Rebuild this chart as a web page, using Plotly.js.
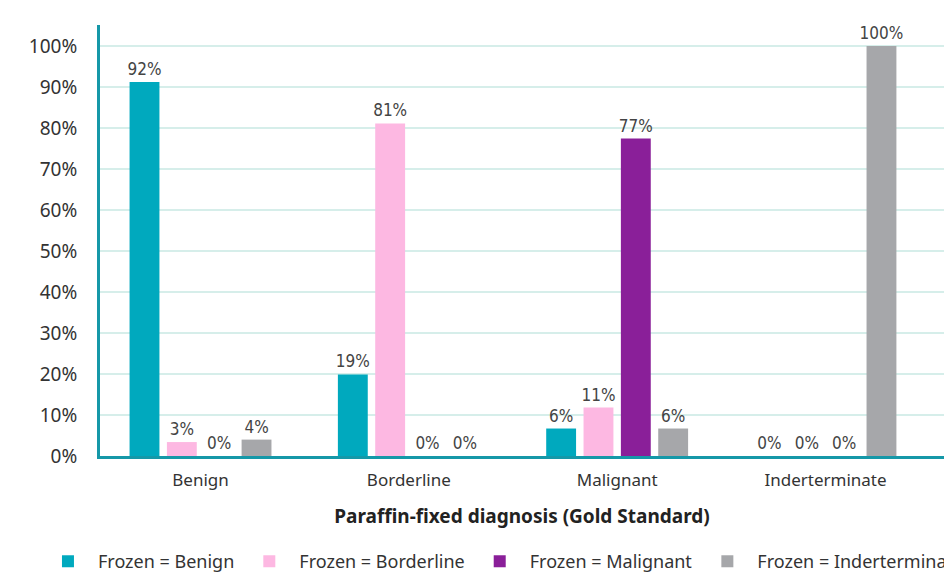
<!DOCTYPE html>
<html>
<head>
<meta charset="utf-8">
<script src="https://cdn.plot.ly/plotly-3.0.1.min.js"></script>
<style>html,body{margin:0;padding:0;background:#fff;}#chart{width:944px;height:572px;}</style>
</head>
<body>
<div id="chart"></div>
<script>
const categories = ["Benign", "Borderline", "Malignant", "Inderterminate"];
const seriesNames = ["Frozen = Benign", "Frozen = Borderline", "Frozen = Malignant", "Frozen = Inderterminate"];
const frozenBenign = [91.2, 19.9, 6.7, 0];
const frozenBorderline = [3.4, 81.1, 11.8, 0];
const frozenMalignant = [0, 0, 77.4, 0];
const frozenIndeterminate = [4.0, 0, 6.7, 100];
const labelsBenign = ["92%", "19%", "6%", "0%"];
const labelsBorderline = ["3%", "81%", "11%", "0%"];
const labelsMalignant = ["0%", "0%", "77%", "0%"];
const labelsIndeterminate = ["4%", "0%", "6%", "100%"];
const yTickVals = [0, 10, 20, 30, 40, 50, 60, 70, 80, 90, 100];
const yTickText = ["0%", "10%", "20%", "30%", "40%", "50%", "60%", "70%", "80%", "90%", "100%"];

const colors = ["#00A9BE", "#FDB8E2", "#8A1F99", "#A6A7AA"];
const values = [frozenBenign, frozenBorderline, frozenMalignant, frozenIndeterminate];
const labels = [labelsBenign, labelsBorderline, labelsMalignant, labelsIndeterminate];

const traces = values.map((v, i) => ({
  type: "bar",
  name: seriesNames[i],
  x: categories,
  y: v,
  text: labels[i],
  textposition: "outside",
  constraintext: "none",
  cliponaxis: false,
  textfont: {family: "Liberation Sans Narrow, DejaVu Sans Condensed, Noto Sans, sans-serif", size: 17, color: "#444"},
  marker: {color: colors[i]},
  hoverinfo: "skip"
}));

const layout = {
  width: 944, height: 572,
  margin: {l: 100, r: 0, t: 25, b: 116, autoexpand: false},
  paper_bgcolor: "#fff", plot_bgcolor: "#fff",
  font: {family: "Noto Sans, sans-serif", color: "#333"},
  barmode: "group",
  bargap: 0.283,
  bargroupgap: 0.2,
  showlegend: true,
  legend: {orientation: "h", x: -0.0735, xanchor: "left", y: -0.202, yanchor: "top",
           itemwidth: 50,
           font: {size: 18, color: "#333"}, itemclick: false},
  xaxis: {
    type: "category",
    range: [-0.4825, 3.569],
    automargin: false,
    showline: true, linecolor: "#1598A8", linewidth: 3,
    showgrid: false, ticks: "",
    tickfont: {size: 17, color: "#333"},
    ticklabelstandoff: 7,
    title: {text: "Paraffin-fixed diagnosis (Gold Standard)", font: {size: 19, color: "#222", weight: "bold"}, standoff: 20}
  },
  yaxis: {
    range: [0, 105.1],
    automargin: false,
    tickmode: "array",
    tickvals: yTickVals,
    ticktext: yTickText,
    showline: true, linecolor: "#1598A8", linewidth: 3,
    showgrid: true, gridcolor: "#D6EEEA", gridwidth: 2,
    zeroline: false, ticks: "",
    tickfont: {size: 19, color: "#333"},
    ticklabelstandoff: 16
  }
};

Plotly.newPlot("chart", traces, layout, {displayModeBar: false, staticPlot: true});
</script>
</body>
</html>
